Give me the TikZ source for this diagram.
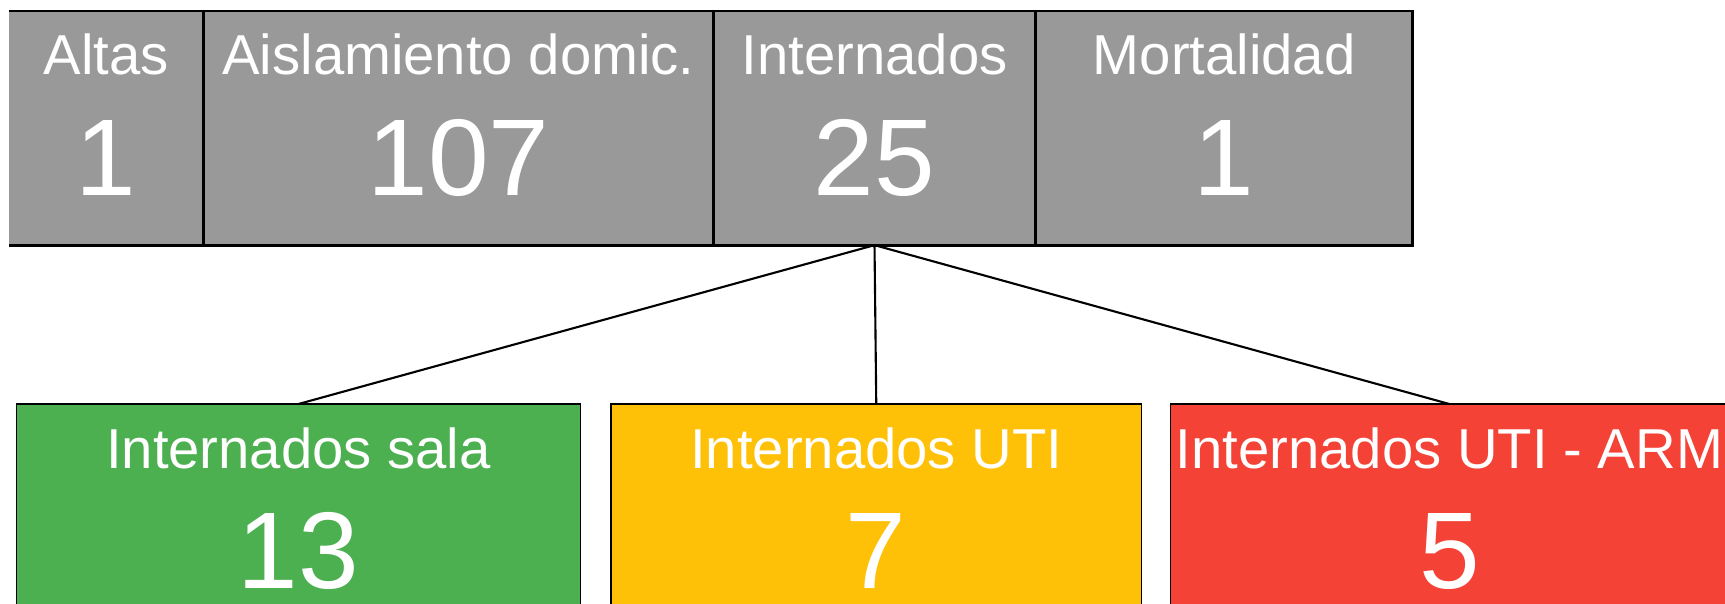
\documentclass[tikz,border=0pt]{standalone}
\usepackage{fontspec}
\setmainfont{Liberation Sans}
\usepackage{xcolor}
\usepackage{tikz}
\usetikzlibrary{positioning}

\definecolor{cellgray}{HTML}{999999}
\definecolor{salagreen}{HTML}{4CAF50}
\definecolor{utiyellow}{HTML}{FFC107}
\definecolor{armred}{HTML}{F44336}

\begin{document}
\begin{tikzpicture}[x=0.01cm,y=-0.01cm,
	cell/.style={rectangle,anchor=north west,inner sep=0pt,outer sep=0pt,minimum height=2.34cm,fill=cellgray},
	ward/.style={rectangle,anchor=north west,inner sep=0pt,outer sep=0pt,minimum height=2.5cm,draw=black,line width=0.4pt},
	lbl/.style={anchor=base,inner sep=0pt,text=white,font=\fontsize{16pt}{19pt}\selectfont},
	num/.style={anchor=base,inner sep=0pt,text=white,font=\fontsize{31pt}{37pt}\selectfont}]
		\useasboundingbox (0,0) rectangle (1725,603);
		% top row
		\node[cell,minimum width=1.949cm] (altas) at (8.6,11) {};
		\node[cell,minimum width=5.095cm,right=0pt of altas] (aisl) {};
		\node[cell,minimum width=3.22cm,right=0pt of aisl] (intern) {};
		\node[cell,minimum width=3.77cm,right=0pt of intern] (mort) {};
		%
		\draw[line width=0.8pt] (altas.north west) -- (mort.north east) -- (mort.south east) -- (altas.south west);
		\draw[line width=0.8pt] (aisl.north west) -- (aisl.south west);
		\draw[line width=0.8pt] (intern.north west) -- (intern.south west);
		\draw[line width=0.8pt] (mort.north west) -- (mort.south west);
		%
		\node[lbl] (altas-t) at ([yshift=-0.635cm]altas.north) {Altas};
		\node[num] (altas-n) at ([yshift=-1.845cm]altas.north) {1};
		\node[lbl] (aisl-t) at ([yshift=-0.635cm]aisl.north) {Aislamiento domic.};
		\node[num] (aisl-n) at ([yshift=-1.845cm]aisl.north) {107};
		\node[lbl] (intern-t) at ([yshift=-0.635cm]intern.north) {Internados};
		\node[num] (intern-n) at ([yshift=-1.845cm]intern.north) {25};
		\node[lbl] (mort-t) at ([yshift=-0.635cm]mort.north) {Mortalidad};
		\node[num] (mort-n) at ([yshift=-1.845cm]mort.north) {1};
		% bottom row
		\node[ward,fill=salagreen,minimum width=5.634cm] (sala) at (16.6,404) {};
		\node[ward,fill=utiyellow,minimum width=5.305cm,right=0.305cm of sala] (uti) {};
		\node[ward,fill=armred,minimum width=5.57cm,right=0.29cm of uti] (arm) {};
		%
		\node[lbl] (sala-t) at ([yshift=-0.64cm]sala.north) {Internados sala};
		\node[num] (sala-n) at ([yshift=-1.84cm]sala.north) {13};
		\node[lbl] (uti-t) at ([yshift=-0.64cm]uti.north) {Internados UTI};
		\node[num] (uti-n) at ([yshift=-1.84cm]uti.north) {7};
		\node[lbl] (arm-t) at ([yshift=-0.64cm]arm.north) {Internados UTI - ARM};
		\node[num] (arm-n) at ([yshift=-1.84cm]arm.north) {5};
		%
		\path[draw,line width=0.6pt]
		(intern.south) edge (sala.north)
		(intern.south) edge (uti.north)
		(intern.south) edge (arm.north);
\end{tikzpicture}
\end{document}
